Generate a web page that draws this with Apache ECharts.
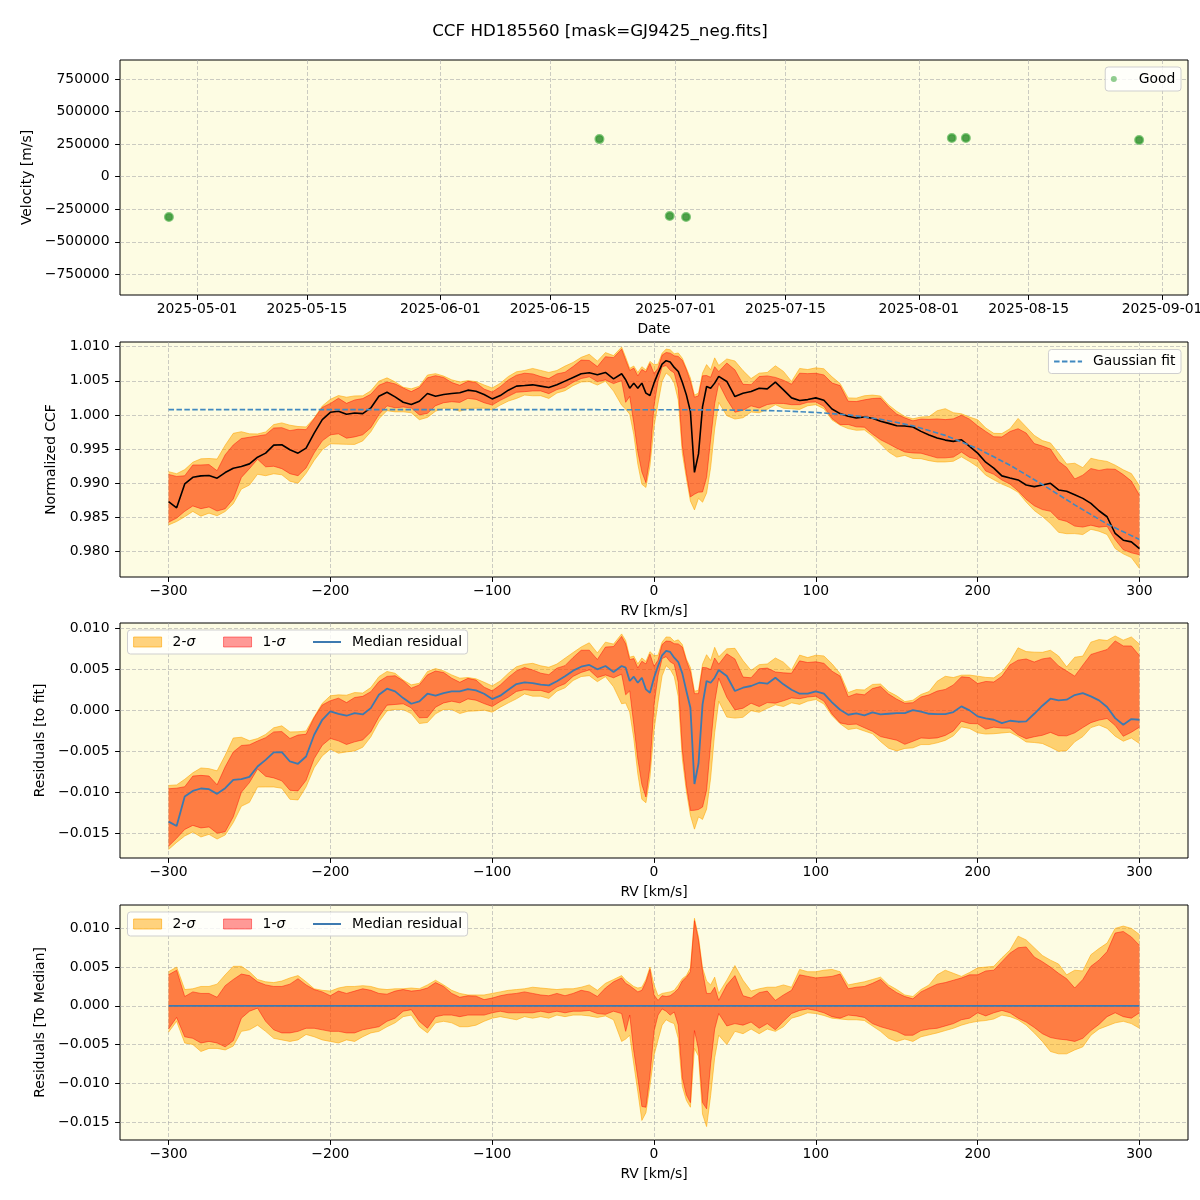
<!DOCTYPE html>
<html>
<head>
<meta charset="utf-8">
<script src="https://cdn.jsdelivr.net/npm/echarts@6/dist/echarts.min.js"></script>
<style>html,body{margin:0;padding:0;background:#fff}#c{width:1200px;height:1200px}</style>
</head>
<body>
<div id="c"></div>
<script>
// ---------------- data ----------------
// Panel 1: observations
const obsDates = ['2025-04-27T10:00', '2025-06-21T07:00', '2025-06-30T06:00', '2025-07-02T08:00',
                  '2025-08-05T05:00', '2025-08-07T00:00', '2025-08-29T02:00'];
const obsVel = [-309000, 289000, -301700, -309000, 297000, 297000, 281700];

// RV grid (km/s) shared by the CCF panels
const rv = [-300,-295,-290,-285,-280,-275,-270,-265,-260,-255,
  -250,-245,-240,-235,-230,-225,-220,-215,-210,-205,
  -200,-195,-190,-185,-180,-175,-170,-165,-160,-155,
  -150,-145,-140,-135,-130,-125,-120,-115,-110,-105,
  -100,-95,-90,-85,-80,-75,-70,-65,-60,-55,
  -50,-45,-40,-35,-30,-25,-20,
  -17.5,-15,-12.5,-10,-7.5,-5,-2.5,0,2.5,5,
  7.5,10,12.5,15,17.5,20,22.5,25,27.5,30,
  32.5,35,37.5,40,
  45,50,55,60,65,70,75,80,85,90,
  95,100,105,110,115,120,125,130,135,140,
  145,150,155,160,165,170,175,180,185,190,
  195,200,205,210,215,220,225,230,235,240,
  245,250,255,260,265,270,275,280,285,290,
  295,300];

// Panel 2: median normalized CCF (black line)
const ccfMedian = [0.98730,0.98640,0.98990,0.99088,0.99108,0.99113,0.99074,0.99157,0.99221,0.99245,
  0.99284,0.99382,0.99441,0.99559,0.99564,0.99490,0.99441,0.99515,0.99735,0.99931,
  1.00039,1.00054,1.00010,1.00029,1.00020,1.00103,1.00275,1.00333,1.00265,1.00186,
  1.00152,1.00201,1.00314,1.00275,1.00299,1.00314,1.00324,1.00363,1.00348,1.00299,
  1.00235,1.00284,1.00363,1.00422,1.00431,1.00441,1.00422,1.00402,1.00441,1.00495,
  1.00549,1.00603,1.00618,1.00588,1.00623,1.00529,1.00603,
  1.00515,1.00392,1.00466,1.00392,1.00466,1.00319,1.00284,1.00466,1.00613,1.00745,
  1.00794,1.00775,1.00696,1.00637,1.00480,1.00294,1.00050,0.99160,0.99430,1.00123,
  1.00417,1.00392,1.00466,1.00564,
  1.00490,1.00270,1.00319,1.00343,1.00392,1.00382,1.00480,1.00368,1.00250,1.00211,
  1.00225,1.00250,1.00216,1.00088,1.00020,0.99980,0.99956,0.99971,0.99951,0.99907,
  0.99877,0.99843,0.99838,0.99824,0.99760,0.99706,0.99662,0.99632,0.99613,0.99637,
  0.99539,0.99441,0.99309,0.99221,0.99108,0.99078,0.99049,0.98975,0.98951,0.98975,
  0.99000,0.98902,0.98882,0.98833,0.98779,0.98706,0.98598,0.98510,0.98265,0.98167,
  0.98142,0.98044];

// Panel 2: Gaussian fit (dashed)
const fitRv = [-300,-200,-100,0,40,60,80,100,120,140,160,180,200,220,240,260,280,300];
const fitVal = [1.00078,1.00078,1.00078,1.00077,1.00074,1.00069,1.00058,1.00037,1.00001,0.99938,
  0.99842,0.99701,0.99508,0.99265,0.98982,0.98684,0.98403,0.98178];

// Panel 3: median residual to fit (blue line)
const residMedian = [-0.01358,-0.01411,-0.01053,-0.00984,-0.00955,-0.00963,-0.01020,-0.00951,-0.00850,-0.00841,
  -0.00813,-0.00687,-0.00606,-0.00516,-0.00512,-0.00626,-0.00654,-0.00565,-0.00301,-0.00118,
  -0.00016,-0.00045,-0.00069,-0.00037,-0.00053,0.00024,0.00187,0.00260,0.00228,0.00146,
  0.00077,0.00106,0.00199,0.00175,0.00207,0.00228,0.00228,0.00256,0.00240,0.00199,
  0.00134,0.00175,0.00248,0.00317,0.00337,0.00329,0.00309,0.00301,0.00350,0.00411,
  0.00480,0.00528,0.00549,0.00496,0.00537,0.00463,0.00537,
  0.00516,0.00354,0.00407,0.00333,0.00394,0.00252,0.00211,0.00394,0.00537,0.00667,
  0.00720,0.00707,0.00638,0.00585,0.00447,0.00232,0.00028,-0.00900,-0.00650,0.00069,
  0.00354,0.00333,0.00394,0.00488,
  0.00415,0.00232,0.00272,0.00293,0.00333,0.00321,0.00394,0.00313,0.00248,0.00199,
  0.00199,0.00228,0.00199,0.00093,0.00004,-0.00057,-0.00041,-0.00065,-0.00028,-0.00053,
  -0.00045,-0.00037,-0.00037,0.00000,-0.00020,-0.00045,-0.00049,-0.00049,-0.00024,0.00045,
  -0.00004,-0.00077,-0.00102,-0.00118,-0.00159,-0.00130,-0.00142,-0.00138,-0.00045,0.00053,
  0.00138,0.00118,0.00126,0.00183,0.00207,0.00167,0.00118,0.00037,-0.00098,-0.00179,
  -0.00110,-0.00118];

// Panel 4: percentile bands relative to the median, in per-mille (‰)
const hi2PerMille = [4.4,5.0,2.1,2.2,2.5,2.5,2.8,4.0,5.1,5.1,
  4.4,3.4,3.1,3.0,3.2,3.6,3.9,3.1,2.2,2.0,
  1.9,2.3,2.5,2.5,2.6,2.5,2.2,2.1,2.2,2.2,
  2.3,2.2,2.7,3.3,2.7,2.0,1.6,1.4,1.4,1.4,
  1.6,1.8,2.0,2.1,2.2,2.4,2.3,2.2,2.1,2.2,
  2.2,2.4,2.7,2.0,2.9,3.4,3.9,
  3.3,2.9,2.5,2.3,2.4,3.4,5.0,2.7,1.3,1.6,
  1.7,1.8,2.0,2.7,3.5,3.9,4.9,11.3,8.9,4.9,
  3.2,2.7,3.7,1.6,
  3.3,5.2,3.3,1.9,2.2,2.4,2.4,2.7,2.4,4.7,
  4.4,4.4,4.6,4.7,4.4,2.7,2.9,3.1,3.4,3.7,
  2.7,2.1,1.4,1.2,2.1,2.7,4.0,4.6,4.2,3.8,
  4.3,4.9,5.0,5.1,6.2,7.2,9.0,8.5,7.5,6.5,
  5.9,5.4,4.0,4.6,4.5,6.6,7.4,8.1,10.0,10.3,
  10.0,9.2];
const hi1PerMille = [4.0,4.6,1.2,1.8,1.6,1.6,1.1,2.6,3.4,4.1,
  3.9,3.1,2.7,2.5,2.5,2.8,3.5,2.7,2.1,1.8,
  1.3,1.9,1.6,1.9,2.2,2.0,1.6,1.5,1.9,2.1,
  1.9,2.0,2.3,3.0,2.5,1.6,1.1,1.3,1.25,0.8,
  1.0,1.3,1.5,1.6,1.8,1.6,1.4,1.3,1.6,1.3,
  1.6,2.0,1.8,1.2,2.3,3.1,3.6,
  2.9,2.6,2.2,1.8,2.0,3.1,4.7,1.4,0.7,1.3,
  1.2,1.3,1.7,2.2,3.2,3.7,4.4,11.0,8.5,4.5,
  1.6,1.6,2.4,0.7,
  2.7,3.9,1.3,1.0,1.7,1.9,0.7,1.4,2.0,4.0,
  3.8,3.6,3.7,3.8,4.1,2.2,2.4,2.5,2.9,3.4,
  2.4,1.7,1.2,0.9,1.8,2.3,2.8,3.0,3.3,3.6,
  4.0,4.0,4.5,4.6,5.7,6.8,7.5,7.6,6.3,5.7,
  5.0,4.2,3.5,2.3,3.4,5.1,5.9,7.0,9.4,9.6,
  8.9,7.8];
const lo1PerMille = [-3.0,-1.5,-4.0,-4.2,-4.8,-4.6,-4.8,-5.3,-4.5,-1.6,
  -0.7,-0.3,-2.0,-3.1,-3.5,-3.5,-3.3,-2.9,-2.9,-3.1,
  -3.3,-3.3,-3.5,-3.5,-3.1,-2.9,-2.7,-2.0,-1.6,-0.7,
  -0.5,-2.0,-2.9,-1.4,-1.2,-1.2,-1.4,-1.2,-1.2,-1.2,
  -0.9,-0.7,-0.9,-0.9,-0.9,-0.9,-0.7,-0.9,-0.7,-0.9,
  -0.7,-0.7,-0.6,-1.0,-1.1,-0.7,-1.0,
  -3.3,-1.2,-5.8,-9.3,-13.0,-13.1,-9.0,-3.3,-1.2,-0.4,
  -0.7,-1.2,-0.8,-2.5,-9.3,-11.5,-12.5,-3.2,-5.6,-12.5,
  -13.3,-7.5,-3.0,-1.0,
  -2.6,-2.3,-2.5,-2.1,-2.9,-2.3,-3.1,-2.0,-1.0,-0.6,
  -0.4,-0.6,-0.9,-1.4,-1.6,-1.2,-1.3,-1.5,-2.3,-2.7,
  -3.0,-3.3,-3.8,-3.8,-3.2,-3.0,-2.9,-2.6,-2.3,-1.8,
  -1.6,-0.9,-1.3,-0.9,-0.6,-0.9,-1.6,-2.1,-2.8,-3.6,
  -4.1,-4.3,-4.4,-4.6,-4.2,-3.2,-2.4,-1.4,-0.9,-1.4,
  -1.6,-0.9];
const lo2PerMille = [-3.4,-2.0,-4.8,-5.0,-5.9,-5.5,-5.5,-5.7,-5.2,-3.3,
  -3.1,-2.5,-3.3,-4.2,-4.4,-4.6,-4.4,-3.7,-4.0,-4.4,
  -4.6,-4.8,-4.4,-4.6,-4.0,-3.5,-3.3,-2.7,-2.2,-1.4,
  -1.2,-2.7,-3.5,-2.2,-2.0,-2.2,-2.7,-2.7,-2.5,-2.0,
  -1.6,-1.4,-1.6,-1.8,-1.4,-1.6,-1.4,-1.6,-1.2,-1.4,
  -1.2,-1.2,-1.3,-1.5,-1.3,-1.8,-4.6,
  -4.3,-3.8,-7.5,-11.1,-14.8,-13.8,-10.3,-6.4,-4.4,-2.5,
  -1.8,-2.1,-2.3,-4.2,-10.4,-12.2,-13.1,-5.5,-6.5,-14.0,
  -15.6,-11.6,-6.7,-3.8,
  -5.0,-3.3,-3.6,-3.0,-3.6,-3.0,-3.3,-2.7,-1.6,-1.3,
  -0.9,-1.0,-1.25,-1.6,-1.7,-1.8,-1.8,-1.9,-2.6,-3.3,
  -4.2,-4.6,-4.3,-4.6,-4.0,-3.75,-3.5,-3.2,-2.9,-2.5,
  -2.2,-2.0,-1.9,-1.7,-1.2,-1.4,-1.8,-2.5,-3.5,-4.6,
  -5.9,-6.2,-6.2,-5.7,-5.3,-3.8,-3.0,-2.6,-2.2,-2.0,
  -2.3,-2.9];
// Panel 4 median line (flat at zero)
const medToMedRv = [-300, 300];
const medToMedVal = [0, 0];

// Tick labels
const dateTicks = ['2025-05-01','2025-05-15','2025-06-01','2025-06-15','2025-07-01','2025-07-15','2025-08-01','2025-08-15','2025-09-01'];
const velTicks = [-750000,-500000,-250000,0,250000,500000,750000];
const rvTicks = [-300,-200,-100,0,100,200,300];
const ccfTicks = [0.980,0.985,0.990,0.995,1.000,1.005,1.010];
const residTicks = [-0.015,-0.010,-0.005,0.000,0.005,0.010];

// ---------------- styling ----------------
const FONT = "'DejaVu Sans', sans-serif";
const FS = 13.9;
const BG = '#fdfce3';
const GRID_LINE = 'rgba(170,170,170,0.6)';
const FILL2 = 'rgba(255,165,0,0.5)';
const EDGE2 = 'rgba(255,165,0,0.55)';
const FILL1 = 'rgba(255,0,0,0.4)';
const EDGE1 = 'rgba(255,0,0,0.45)';
const BLUE = '#3d7ab0';
const FIT_BLUE = '#4189c0';
const MINUS = '\u2212';

function fmtNum(v, d) {
  const s = Math.abs(v).toFixed(d);
  return (v < 0 && parseFloat(s) !== 0 ? MINUS : '') + s;
}
function utc(s) { return Date.parse(s + 'Z'); }

const grids = [
  {top: 60, height: 235},
  {top: 342, height: 235},
  {top: 623, height: 235},
  {top: 905, height: 235}
].map(g => Object.assign({left: 120, width: 1068, show: true, backgroundColor: BG,
  borderColor: '#000', borderWidth: 1, containLabel: false, outerBoundsMode: 'none'}, g));

const splitLine = {show: true, lineStyle: {color: GRID_LINE, type: [4, 2], width: 1}};
const tickStyle = {show: true, inside: false, length: 4.9, lineStyle: {color: '#000', width: 1}};
const nameStyle = {fontSize: FS, fontFamily: FONT, color: '#000'};
const labelBase = {color: '#000', fontSize: FS, fontFamily: FONT};

function xAxisRV(gi) {
  return {type: 'value', gridIndex: gi, min: -330, max: 330, splitNumber: 6,
    name: 'RV [km/s]', nameLocation: 'middle', nameGap: 27, nameTextStyle: nameStyle,
    axisLine: {show: false, onZero: false},
    axisTick: Object.assign({customValues: rvTicks}, tickStyle),
    axisLabel: Object.assign({customValues: rvTicks, margin: 7, formatter: v => fmtNum(v, 0)}, labelBase),
    splitLine: splitLine};
}
function yAxisVal(gi, min, max, ticks, dec, name, gap) {
  return {type: 'value', gridIndex: gi, min: min, max: max, splitNumber: 6,
    name: name, nameLocation: 'middle', nameGap: gap, nameTextStyle: nameStyle,
    axisLine: {show: false, onZero: false},
    axisTick: Object.assign({customValues: ticks}, tickStyle),
    axisLabel: Object.assign({customValues: ticks, margin: 10.5, formatter: v => fmtNum(v, dec)}, labelBase),
    splitLine: splitLine};
}

const xAxes = [
  {type: 'value', gridIndex: 0, min: utc('2025-04-21T04:20'), max: utc('2025-09-04T07:30'),
    name: 'Date', nameLocation: 'middle', nameGap: 27, nameTextStyle: nameStyle,
    axisLine: {show: false, onZero: false},
    axisTick: Object.assign({customValues: dateTicks.map(d => utc(d + 'T00:00'))}, tickStyle),
    axisLabel: Object.assign({customValues: dateTicks.map(d => utc(d + 'T00:00')), margin: 7,
      formatter: v => new Date(v).toISOString().slice(0, 10)}, labelBase),
    splitLine: splitLine},
  xAxisRV(1), xAxisRV(2), xAxisRV(3)
];
const yAxes = [
  yAxisVal(0, -909000, 897000, velTicks, 0, 'Velocity [m/s]', 81),
  yAxisVal(1, 0.97628, 1.01068, ccfTicks, 3, 'Normalized CCF', 57),
  yAxisVal(2, -0.01801, 0.0106, residTicks, 3, 'Residuals [to fit]', 68),
  yAxisVal(3, -0.01733, 0.01302, residTicks, 3, 'Residuals [To Median]', 68)
];

// filled band between two boundary arrays, drawn through the axis scales (api.coord)
function bandPolygon(name, gi, low, high, fill, z) {
  return {type: 'custom', name: name, xAxisIndex: gi, yAxisIndex: gi, silent: true, z: z,
    data: [[rv[0], low[0]]],
    renderItem: function (params, api) {
      const pts = [];
      for (let i = 0; i < rv.length; i++) pts.push(api.coord([rv[i], high[i]]));
      for (let i = rv.length - 1; i >= 0; i--) pts.push(api.coord([rv[i], low[i]]));
      return {type: 'polygon', shape: {points: pts}, style: {fill: fill, stroke: null}};
    }};
}
function edgeLine(gi, arr, color, z) {
  return {type: 'line', xAxisIndex: gi, yAxisIndex: gi, symbol: 'none', silent: true, z: z,
    data: rv.map((x, i) => [x, arr[i]]), lineStyle: {color: color, width: 1}};
}
function bandSeries(gi, base) {
  const b = i => (base ? base[i] : 0);
  const lo2 = rv.map((x, i) => b(i) + lo2PerMille[i] / 1000);
  const hi2 = rv.map((x, i) => b(i) + hi2PerMille[i] / 1000);
  const lo1 = rv.map((x, i) => b(i) + lo1PerMille[i] / 1000);
  const hi1 = rv.map((x, i) => b(i) + hi1PerMille[i] / 1000);
  return [
    bandPolygon('2-σ', gi, lo2, hi2, FILL2, 2),
    edgeLine(gi, lo2, EDGE2, 3), edgeLine(gi, hi2, EDGE2, 3),
    bandPolygon('1-σ', gi, lo1, hi1, FILL1, 4),
    edgeLine(gi, lo1, EDGE1, 5), edgeLine(gi, hi1, EDGE1, 5)
  ];
}

const series = [];
series.push({type: 'scatter', name: 'Good', xAxisIndex: 0, yAxisIndex: 0, silent: true,
  data: obsDates.map((d, i) => [utc(d), obsVel[i]]), symbolSize: 7.5,
  itemStyle: {color: 'rgba(28,128,28,0.95)', borderColor: 'rgba(50,160,50,0.75)', borderWidth: 2.5}});

series.push(...bandSeries(1, ccfMedian));
series.push({type: 'line', name: 'CCF median', xAxisIndex: 1, yAxisIndex: 1, symbol: 'none', silent: true, z: 7,
  data: rv.map((x, i) => [x, ccfMedian[i]]), lineStyle: {color: '#000', width: 1.6}});
series.push({type: 'line', name: 'Gaussian fit', xAxisIndex: 1, yAxisIndex: 1, symbol: 'none', silent: true, z: 8,
  data: fitRv.map((x, i) => [x, fitVal[i]]), lineStyle: {color: FIT_BLUE, width: 1.6, type: [5.5, 2.4]}});

series.push(...bandSeries(2, residMedian));
series.push({type: 'line', name: 'Median residual', xAxisIndex: 2, yAxisIndex: 2, symbol: 'none', silent: true, z: 7,
  data: rv.map((x, i) => [x, residMedian[i]]), lineStyle: {color: BLUE, width: 1.8}});

series.push(...bandSeries(3, null));
series.push({type: 'line', name: 'Median residual', xAxisIndex: 3, yAxisIndex: 3, symbol: 'none', silent: true, z: 7,
  data: medToMedRv.map((x, i) => [x, medToMedVal[i]]), lineStyle: {color: BLUE, width: 1.8}});

const legendBox = {orient: 'horizontal', selectedMode: false, backgroundColor: 'rgba(255,255,255,0.8)',
  borderColor: '#cfcfcf', borderWidth: 1, borderRadius: 3, padding: [5, 5.6],
  itemWidth: 28, itemHeight: 10, itemGap: 27.8,
  textStyle: {fontSize: FS, fontFamily: FONT, color: '#000', padding: [0, 0, 0, 6],
    rich: {i: {fontStyle: 'italic', fontSize: FS, fontFamily: FONT, color: '#000'}}},
  formatter: name => name.replace('σ', '{i|σ}')};
const sigmaLegendData = [
  {name: '2-σ', icon: 'rect', itemStyle: {color: FILL2, borderColor: 'rgba(255,165,0,0.6)', borderWidth: 1}},
  {name: '1-σ', icon: 'rect', itemStyle: {color: FILL1, borderColor: 'rgba(255,0,0,0.45)', borderWidth: 1}},
  {name: 'Median residual', icon: 'path://M0,0H28V2H0Z', itemStyle: {color: BLUE, borderWidth: 0}}
];
const legends = [
  Object.assign({}, legendBox, {right: 19, top: 67, itemHeight: 6,
    data: [{name: 'Good', icon: 'circle', itemStyle: {color: 'rgba(44,160,44,0.65)', borderWidth: 0}}]}),
  Object.assign({}, legendBox, {right: 19, top: 349.5,
    data: [{name: 'Gaussian fit', icon: 'path://M0,0H5.5V2H0Z M7.9,0H13.4V2H7.9Z M15.8,0H21.3V2H15.8Z M23.7,0H28V2H23.7Z',
      itemStyle: {color: FIT_BLUE, borderWidth: 0}}]}),
  Object.assign({}, legendBox, {left: 127.5, top: 630, data: sigmaLegendData}),
  Object.assign({}, legendBox, {left: 127.5, top: 912, data: sigmaLegendData})
];

const chart = echarts.init(document.getElementById('c'), null, {renderer: 'canvas'});
chart.setOption({
  animation: false,
  backgroundColor: '#fff',
  title: {text: 'CCF HD185560 [mask=GJ9425_neg.fits]', left: 'center', top: 18,
    textStyle: {fontSize: 16.7, fontWeight: 'normal', color: '#000', fontFamily: FONT}},
  grid: grids,
  xAxis: xAxes,
  yAxis: yAxes,
  legend: legends,
  series: series
});
</script>
</body>
</html>
